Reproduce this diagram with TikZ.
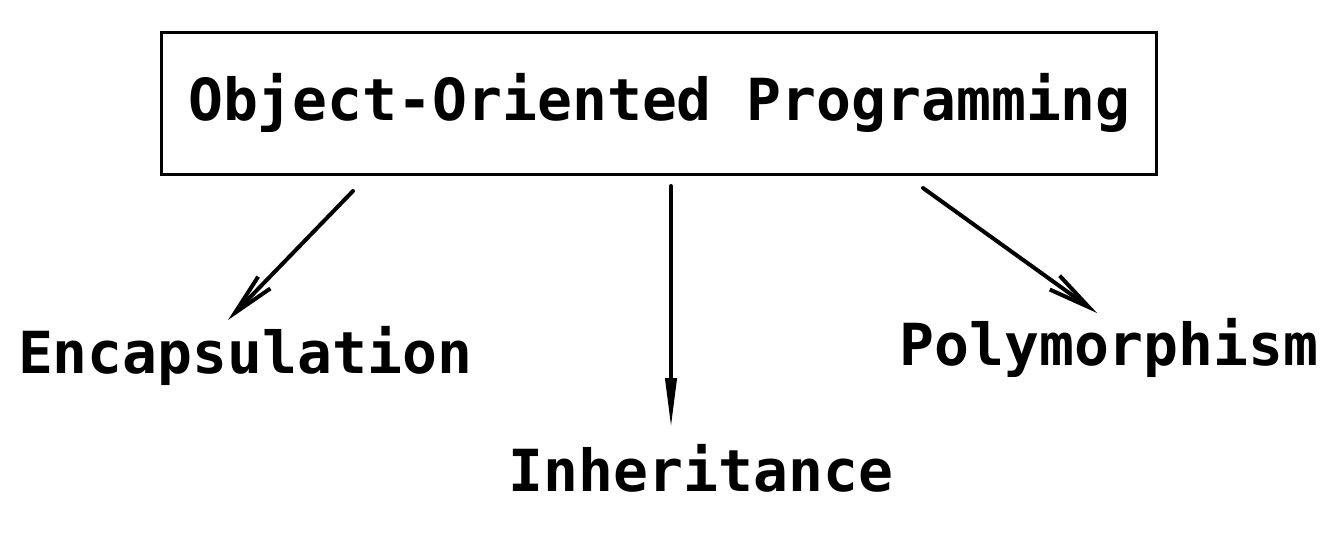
\documentclass[tikz,border=0pt]{standalone}
\usepackage{fontspec}
\setmonofont{DejaVu Sans Mono}
\usetikzlibrary{arrows.meta}
\begin{document}
\begin{tikzpicture}[x=1pt,y=1pt,
  lbl/.style={inner sep=0pt, anchor=base, font=\fontsize{58}{60}\selectfont\ttfamily\bfseries},
  conn/.style={line width=4pt, line cap=round, -{Straight Barb[length=42pt,width=17pt,line width=4pt]}}]
\useasboundingbox (0,0) rectangle (1344,-550);
\fill[white] (0,0) rectangle (1344,-550);
\node[draw, line width=3pt, minimum width=995pt, minimum height=142pt, inner sep=0pt] (oop) at (658.5,-103) {};
\node[lbl] (title) at (659.5,-120) {Object-Oriented Programming};
\node[lbl] (enc) at (245,-373) {Encapsulation};
\node[lbl] (inh) at (701,-491) {Inheritance};
\node[lbl] (poly) at (1109,-365) {Polymorphism};
\coordinate (s1) at (353,-191);
\coordinate (e1) at (228,-320);
\coordinate (s2) at (671,-186);
\coordinate (e2) at (671,-428);
\coordinate (s3) at (923,-188);
\coordinate (e3) at (1097,-313);
\draw[conn] (s1) -- (e1);
\draw[line width=4pt, line cap=round, -{Triangle[length=50pt,width=11pt]}] (s2) -- (e2);
\draw[conn] (s3) -- (e3);
\end{tikzpicture}
\end{document}
